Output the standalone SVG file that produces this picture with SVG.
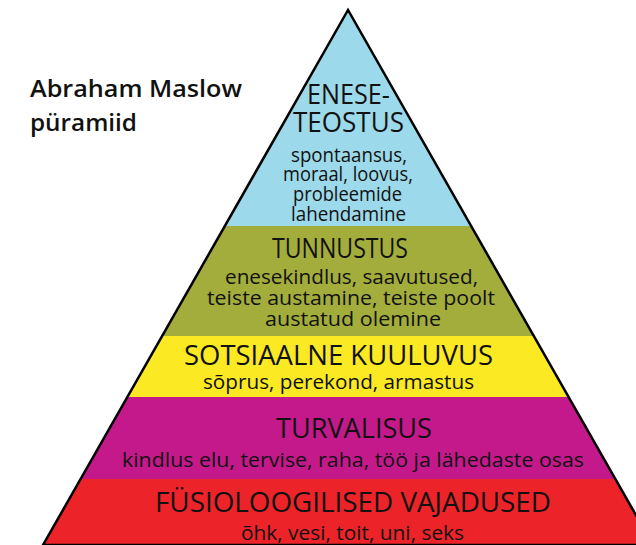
<svg xmlns="http://www.w3.org/2000/svg" width="636" height="545" viewBox="0 0 636 545">
<style>
.t{font-family:"Open Sans","Noto Sans","Liberation Sans",sans-serif;fill:#111;text-anchor:middle}
.h{font-size:27px}
.s{font-size:20.5px}
.title{font-family:"Open Sans","Noto Sans","Liberation Sans",sans-serif;font-weight:600;font-size:24px;fill:#111}
</style>
<defs>
<clipPath id="tri"><polygon points="348,10 43,545 653,545"/></clipPath>
</defs>
<rect width="636" height="545" fill="#fff"/>
<g id="title">
<text class="title" x="30" y="97" textLength="212" lengthAdjust="spacingAndGlyphs">Abraham Maslow</text>
<text class="title" x="30" y="131" textLength="107" lengthAdjust="spacingAndGlyphs">püramiid</text>
</g>
<g clip-path="url(#tri)">
<rect id="band1" x="0" y="0" width="700" height="227" fill="#9cd9ea"/>
<rect id="band2" x="0" y="226" width="700" height="111" fill="#a3ad3c"/>
<rect id="band3" x="0" y="336" width="700" height="62" fill="#fbe924"/>
<rect id="band4" x="0" y="397" width="700" height="83" fill="#c4198b"/>
<rect id="band5" x="0" y="479" width="700" height="70" fill="#ec2329"/>
</g>
<polygon points="348,10 43,545 653,545" fill="none" stroke="#000" stroke-width="2.5" stroke-linejoin="miter"/>
<g id="eneseteostus">
<text class="t h" x="348.5" y="104" textLength="83" lengthAdjust="spacingAndGlyphs">ENESE-</text>
<text class="t h" x="348.5" y="132" textLength="111" lengthAdjust="spacingAndGlyphs">TEOSTUS</text>
<text class="t s" x="349" y="162" textLength="116" lengthAdjust="spacingAndGlyphs">spontaansus,</text>
<text class="t s" x="348" y="181" textLength="130" lengthAdjust="spacingAndGlyphs">moraal, loovus,</text>
<text class="t s" x="347.5" y="201" textLength="109" lengthAdjust="spacingAndGlyphs">probleemide</text>
<text class="t s" x="348.5" y="221" textLength="115" lengthAdjust="spacingAndGlyphs">lahendamine</text>
</g>
<g id="tunnustus">
<text class="t h" x="340" y="258" textLength="136" lengthAdjust="spacingAndGlyphs">TUNNUSTUS</text>
<text class="t s" x="351.5" y="284" textLength="253" lengthAdjust="spacingAndGlyphs">enesekindlus, saavutused,</text>
<text class="t s" x="351" y="305" textLength="288" lengthAdjust="spacingAndGlyphs">teiste austamine, teiste poolt</text>
<text class="t s" x="353" y="326" textLength="176" lengthAdjust="spacingAndGlyphs">austatud olemine</text>
</g>
<g id="sotsiaalne">
<text class="t h" x="338.5" y="365" textLength="309" lengthAdjust="spacingAndGlyphs">SOTSIAALNE KUULUVUS</text>
<text class="t s" x="338.5" y="389" textLength="271" lengthAdjust="spacingAndGlyphs">sõprus, perekond, armastus</text>
</g>
<g id="turvalisus">
<text class="t h" x="354" y="438" textLength="156" lengthAdjust="spacingAndGlyphs">TURVALISUS</text>
<text class="t s" x="353" y="467" textLength="462" lengthAdjust="spacingAndGlyphs">kindlus elu, tervise, raha, töö ja lähedaste osas</text>
</g>
<g id="fysioloogilised">
<text class="t h" x="353" y="512" textLength="396" lengthAdjust="spacingAndGlyphs">FÜSIOLOOGILISED VAJADUSED</text>
<text class="t s" x="352.5" y="540" textLength="223" lengthAdjust="spacingAndGlyphs">õhk, vesi, toit, uni, seks</text>
</g>
</svg>
